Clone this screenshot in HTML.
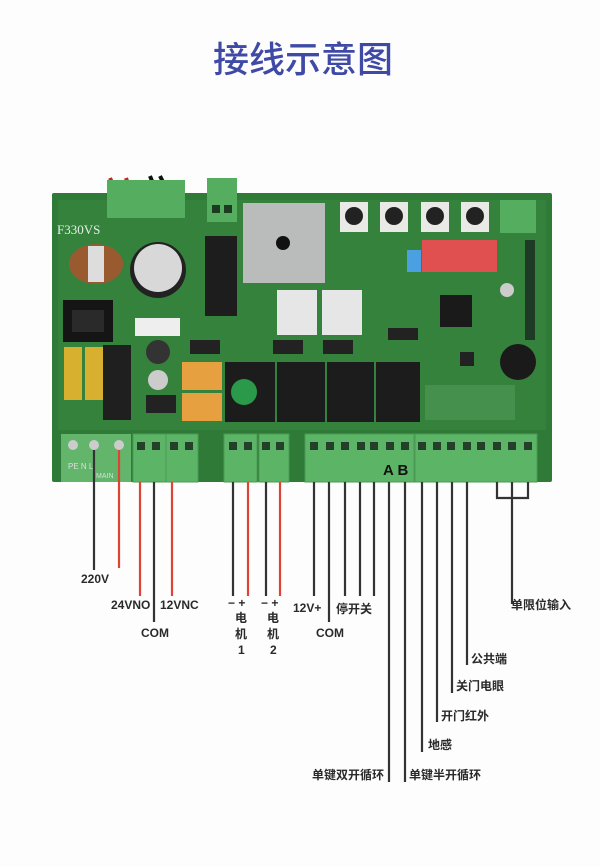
<!DOCTYPE html>
<html><head><meta charset="utf-8"><style>
html,body{margin:0;padding:0;background:#fff;}
svg{display:block}
text{font-family:"Liberation Sans","Noto Sans CJK SC",sans-serif;}
.l{font-size:12px;font-weight:bold;fill:#2a2a2a;}
</style></head><body>
<svg width="600" height="867" viewBox="0 0 600 867" xmlns="http://www.w3.org/2000/svg">
<rect width="600" height="867" fill="#fdfdfd"/>
<text x="213" y="72" font-size="36" fill="#3f4aa6" style="font-family:'Noto Sans CJK SC',sans-serif;font-weight:500">接线示意图</text>

<!-- board -->
<rect x="52" y="193" width="500" height="289" fill="#2f7a37" rx="2"/>
<rect x="58" y="200" width="488" height="230" fill="#34823c"/>
<!-- top connectors -->
<path d="M118 196 L110 178" stroke="#c22" stroke-width="4"/><path d="M132 196 L126 178" stroke="#c22" stroke-width="4"/>
<path d="M158 196 L150 176" stroke="#111" stroke-width="4"/><path d="M170 196 L160 176" stroke="#111" stroke-width="4"/>
<rect x="107" y="180" width="78" height="38" fill="#55ad60"/>
<rect x="207" y="178" width="30" height="44" fill="#55ad60"/>
<rect x="212" y="205" width="8" height="8" fill="#1c3b20"/><rect x="224" y="205" width="8" height="8" fill="#1c3b20"/>
<text x="57" y="234" font-size="13" fill="#e6f0e6" style="font-family:'Liberation Serif',serif">F330VS</text>
<!-- bridge -->
<rect x="243" y="203" width="82" height="80" fill="#b9bcba"/><circle cx="283" cy="243" r="7" fill="#111"/>
<!-- pots -->
<rect x="340" y="202" width="28" height="30" fill="#e9e9e6"/><circle cx="354" cy="216" r="9" fill="#222"/>
<rect x="380" y="202" width="28" height="30" fill="#e9e9e6"/><circle cx="394" cy="216" r="9" fill="#222"/>
<rect x="421" y="202" width="28" height="30" fill="#e9e9e6"/><circle cx="435" cy="216" r="9" fill="#222"/>
<rect x="461" y="202" width="28" height="30" fill="#e9e9e6"/><circle cx="475" cy="216" r="9" fill="#222"/>
<rect x="500" y="200" width="36" height="33" fill="#55ad60"/>
<!-- coil, cap -->
<ellipse cx="96" cy="264" rx="27" ry="20" fill="#9a5a30"/><rect x="88" y="246" width="16" height="36" fill="#ddd"/>
<circle cx="158" cy="270" r="28" fill="#222"/><circle cx="158" cy="268" r="24" fill="#d8d8d8"/>
<rect x="205" y="236" width="32" height="80" fill="#1d1d1d"/>
<!-- switch -->
<rect x="63" y="300" width="50" height="42" fill="#151515"/><rect x="72" y="310" width="32" height="22" fill="#2a2a2a"/>
<rect x="64" y="347" width="18" height="53" fill="#d8b030"/><rect x="85" y="347" width="18" height="53" fill="#d8b030"/>
<rect x="103" y="345" width="28" height="75" fill="#1f1f1f"/>
<rect x="135" y="318" width="45" height="18" fill="#eee"/>
<circle cx="158" cy="352" r="12" fill="#333"/><circle cx="158" cy="380" r="10" fill="#ccc"/>
<rect x="146" y="395" width="30" height="18" fill="#222"/>
<!-- heatsinks -->
<rect x="277" y="290" width="40" height="45" fill="#e6e6e6"/><rect x="322" y="290" width="40" height="45" fill="#e6e6e6"/>
<rect x="273" y="340" width="30" height="14" fill="#222"/><rect x="323" y="340" width="30" height="14" fill="#222"/>
<rect x="190" y="340" width="30" height="14" fill="#222"/>
<!-- relays -->
<rect x="182" y="362" width="40" height="28" fill="#e6a040"/><rect x="182" y="393" width="40" height="28" fill="#e6a040"/>
<rect x="225" y="362" width="50" height="60" fill="#1c1c1c"/><circle cx="244" cy="392" r="13" fill="#2a9a4a"/>
<rect x="277" y="362" width="48" height="60" fill="#1c1c1c"/>
<rect x="327" y="362" width="47" height="60" fill="#1c1c1c"/>
<rect x="376" y="362" width="44" height="60" fill="#1c1c1c"/>
<!-- dips chip -->
<rect x="407" y="250" width="14" height="22" fill="#4aa0e0"/>
<rect x="422" y="240" width="75" height="32" fill="#e05050"/>
<rect x="440" y="295" width="32" height="32" fill="#1a1a1a"/>
<rect x="388" y="328" width="30" height="12" fill="#222"/>
<rect x="460" y="352" width="14" height="14" fill="#222"/>
<circle cx="518" cy="362" r="18" fill="#1a1a1a"/>
<circle cx="507" cy="290" r="7" fill="#ccc"/>
<rect x="525" y="240" width="10" height="100" fill="#1f3a24"/>
<rect x="425" y="385" width="90" height="35" fill="#46904e"/>

<!-- terminal blocks -->
<rect x="61" y="434" width="70" height="48" fill="#64b56c"/>
<circle cx="73" cy="445" r="5" fill="#ccc"/><circle cx="94" cy="445" r="5" fill="#ccc"/><circle cx="119" cy="445" r="5" fill="#ccc"/>
<text x="68" y="469" font-size="8" fill="#ddd">PE  N  L</text>
<text x="96" y="478" font-size="7" fill="#ddd">MAIN</text>
<g fill="#5cb566" stroke="#4a9a54" stroke-width="1">
<rect x="133" y="434" width="33" height="48"/><rect x="166" y="434" width="32" height="48"/>
<rect x="224" y="434" width="33" height="48"/><rect x="259" y="434" width="30" height="48"/>
<rect x="305" y="434" width="109" height="48"/><rect x="415" y="434" width="122" height="48"/>
</g>
<g fill="#24402a">
<rect x="137" y="442" width="8" height="8"/><rect x="152" y="442" width="8" height="8"/>
<rect x="170" y="442" width="8" height="8"/><rect x="185" y="442" width="8" height="8"/>
<rect x="229" y="442" width="8" height="8"/><rect x="244" y="442" width="8" height="8"/>
<rect x="262" y="442" width="8" height="8"/><rect x="276" y="442" width="8" height="8"/>
<rect x="310" y="442" width="8" height="8"/><rect x="326" y="442" width="8" height="8"/><rect x="341" y="442" width="8" height="8"/><rect x="357" y="442" width="8" height="8"/><rect x="370" y="442" width="8" height="8"/><rect x="386" y="442" width="8" height="8"/><rect x="401" y="442" width="8" height="8"/>
<rect x="418" y="442" width="8" height="8"/><rect x="433" y="442" width="8" height="8"/><rect x="447" y="442" width="8" height="8"/><rect x="463" y="442" width="8" height="8"/><rect x="477" y="442" width="8" height="8"/><rect x="493" y="442" width="8" height="8"/><rect x="508" y="442" width="8" height="8"/><rect x="524" y="442" width="8" height="8"/>
</g>
<text x="383" y="475" font-size="15" font-weight="bold" fill="#111">A B</text>

<!-- wires -->
<g stroke-width="2.2">
<line x1="94" y1="450" x2="94" y2="570" stroke="#333"/>
<line x1="119" y1="450" x2="119" y2="568" stroke="#d43"/>
<line x1="140" y1="482" x2="140" y2="596" stroke="#d43"/>
<line x1="154" y1="482" x2="154" y2="622" stroke="#333"/>
<line x1="172" y1="482" x2="172" y2="596" stroke="#d43"/>
<line x1="233" y1="482" x2="233" y2="596" stroke="#333"/>
<line x1="248" y1="482" x2="248" y2="596" stroke="#d43"/>
<line x1="266" y1="482" x2="266" y2="596" stroke="#333"/>
<line x1="280" y1="482" x2="280" y2="596" stroke="#d43"/>
<line x1="314" y1="482" x2="314" y2="596" stroke="#333"/>
<line x1="329" y1="482" x2="329" y2="622" stroke="#333"/>
<line x1="345" y1="482" x2="345" y2="596" stroke="#333"/>
<line x1="360" y1="482" x2="360" y2="596" stroke="#333"/>
<line x1="374" y1="482" x2="374" y2="596" stroke="#333"/>
<line x1="389" y1="482" x2="389" y2="782" stroke="#333"/>
<line x1="405" y1="482" x2="405" y2="782" stroke="#333"/>
<line x1="422" y1="482" x2="422" y2="752" stroke="#333"/>
<line x1="437" y1="482" x2="437" y2="722" stroke="#333"/>
<line x1="452" y1="482" x2="452" y2="693" stroke="#333"/>
<line x1="467" y1="482" x2="467" y2="665" stroke="#333"/>
<path d="M497 482 V498 H528 V482 M512 482 V604" fill="none" stroke="#333"/>
</g>

<!-- labels -->
<text class="l" x="81" y="583">220V</text>
<text class="l" x="111" y="609">24VNO</text>
<text class="l" x="141" y="637">COM</text>
<text class="l" x="160" y="609">12VNC</text>
<text class="l" x="228" y="607">− +</text><text class="l" x="261" y="607">− +</text>
<text class="l" x="235" y="622" font-size="13">电</text><text class="l" x="235" y="638" font-size="13">机</text><text class="l" x="238" y="654" font-size="13">1</text>
<text class="l" x="267" y="622" font-size="13">电</text><text class="l" x="267" y="638" font-size="13">机</text><text class="l" x="270" y="654" font-size="13">2</text>
<text class="l" x="293" y="612">12V+</text>
<text class="l" x="336" y="613" font-size="14">停开关</text>
<text class="l" x="316" y="637">COM</text>
<text class="l" x="511" y="609">单限位输入</text>
<text class="l" x="471" y="663">公共端</text>
<text class="l" x="456" y="690">关门电眼</text>
<text class="l" x="441" y="720">开门红外</text>
<text class="l" x="428" y="749">地感</text>
<text class="l" x="409" y="779">单键半开循环</text>
<text class="l" x="312" y="779">单键双开循环</text>
</svg>
</body></html>
